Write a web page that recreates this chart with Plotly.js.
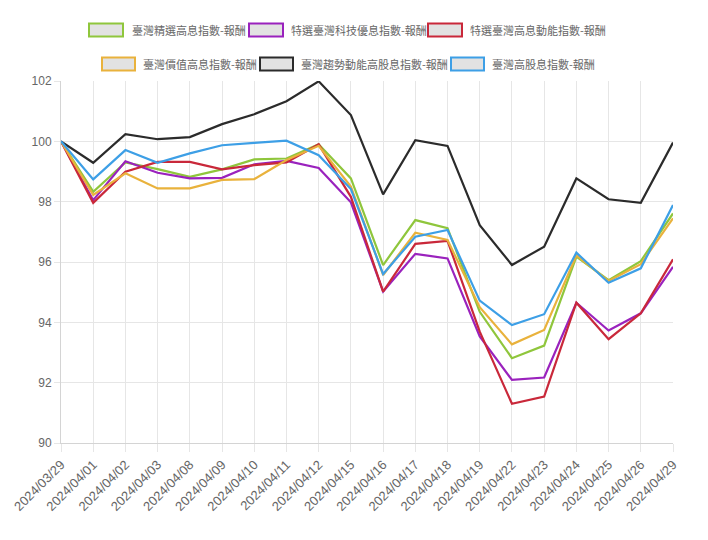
<!DOCTYPE html>
<html>
<head>
<meta charset="utf-8">
<script src="https://cdn.plot.ly/plotly-3.0.1.min.js"></script>
<style>
  html, body { margin: 0; padding: 0; background: #fff; }
  #chart { width: 708px; height: 540px; }
</style>
</head>
<body>
<div id="chart"></div>
<script>
// Trading days
const dates = ['2024/03/29','2024/04/01','2024/04/02','2024/04/03','2024/04/08','2024/04/09','2024/04/10',
  '2024/04/11','2024/04/12','2024/04/15','2024/04/16','2024/04/17','2024/04/18','2024/04/19','2024/04/22',
  '2024/04/23','2024/04/24','2024/04/25','2024/04/26','2024/04/29'];

// Series names (legend order)
const names = ['臺灣精選高息指數-報酬','特選臺灣科技優息指數-報酬','特選臺灣高息動能指數-報酬',
  '臺灣價值高息指數-報酬','臺灣趨勢動能高股息指數-報酬','臺灣高股息指數-報酬'];

// Index levels, base 100 on 2024/03/29
const selectHighDiv = [100, 98.33, 99.30, 99.08, 98.82, 99.07, 99.40, 99.43, 99.90, 98.77, 95.90, 97.39, 97.12, 94.35, 92.81, 93.23, 96.18, 95.40, 96.03, 97.61];
const techDiv       = [100, 98.05, 99.34, 98.96, 98.77, 98.79, 99.24, 99.35, 99.12, 97.98, 95.02, 96.27, 96.12, 93.53, 92.09, 92.17, 94.65, 93.73, 94.30, 95.84];
const momentumDiv   = [100, 97.96, 98.99, 99.32, 99.32, 99.07, 99.21, 99.30, 99.90, 98.16, 95.02, 96.60, 96.70, 93.69, 91.30, 91.54, 94.65, 93.44, 94.30, 96.09];
const valueDiv      = [100, 98.22, 98.94, 98.44, 98.44, 98.72, 98.75, 99.38, 99.85, 98.50, 95.57, 96.97, 96.73, 94.50, 93.27, 93.75, 96.22, 95.37, 95.93, 97.45];
const trendDiv      = [100, 99.29, 100.24, 100.07, 100.14, 100.57, 100.90, 101.33, 101.99, 100.87, 98.24, 100.04, 99.85, 97.22, 95.90, 96.51, 98.77, 98.08, 97.96, 99.96];
const highDiv       = [100, 98.74, 99.71, 99.29, 99.60, 99.87, 99.95, 100.02, 99.54, 98.42, 95.60, 96.84, 97.06, 94.72, 93.91, 94.27, 96.31, 95.31, 95.79, 97.89];

const seriesValues = [selectHighDiv, techDiv, momentumDiv, valueDiv, trendDiv, highDiv];
const colors = ['#8fc63c', '#9a22bd', '#c9283a', '#e9b23c', '#2b2b2b', '#3d9fe6'];

const traces = seriesValues.map((vals, i) => ({
  type: 'scatter',
  mode: 'lines',
  x: dates,
  y: vals,
  name: names[i],
  line: { color: colors[i], width: 2.2 },
  showlegend: false,
  hoverinfo: 'x+y+name'
}));

// Plot area in pixels
const W = 708, H = 540;
const L = 61, R = 673, T = 80.6, B = 443.3;
const px = x => (x - L) / (R - L);
const py = y => (B - y) / (B - T);

// Custom legend: boxed swatches with labels, two centred rows
const legendItems = [
  { box: [89, 123], y: 29.5, text: 130 },
  { box: [249, 283], y: 29.5, text: 289 },
  { box: [428, 462], y: 29.5, text: 468 },
  { box: [102, 135], y: 63.5, text: 141 },
  { box: [260, 293], y: 63.5, text: 299 },
  { box: [451, 484], y: 63.5, text: 490 }
];
const shapes = [];
const annotations = [];
legendItems.forEach((it, i) => {
  shapes.push({
    type: 'rect', xref: 'paper', yref: 'paper',
    x0: px(it.box[0]), x1: px(it.box[1]),
    y0: py(it.y - 6.5), y1: py(it.y + 6.5),
    fillcolor: '#e2e2e2', line: { color: colors[i], width: 2 }
  });
  annotations.push({
    xref: 'paper', yref: 'paper', x: px(it.text), y: py(it.y),
    xanchor: 'left', yanchor: 'middle', showarrow: false,
    text: names[i],
    font: { family: '"Noto Sans CJK TC", "Noto Sans", sans-serif', size: 11, color: '#666' }
  });
});

const layout = {
  width: W, height: H,
  margin: { l: L, r: W - R, t: T, b: H - B },
  paper_bgcolor: '#fff', plot_bgcolor: '#fff',
  showlegend: false,
  font: { family: '"Liberation Sans", Arial, sans-serif', color: '#666', size: 12 },
  xaxis: {
    type: 'category',
    range: [0, dates.length - 1],
    tickangle: -45,
    showgrid: true, gridcolor: '#e6e6e6', gridwidth: 1,
    ticks: 'outside', ticklen: 8, tickcolor: '#e6e6e6',
    showline: true, linecolor: '#d4d4d4', linewidth: 1,
    zeroline: false,
    tickfont: { size: 13, color: '#666' }
  },
  yaxis: {
    range: [90, 102],
    dtick: 2,
    showgrid: true, gridcolor: '#e6e6e6', gridwidth: 1,
    ticks: 'outside', ticklen: 6, tickcolor: '#e6e6e6',
    showline: true, linecolor: '#d4d4d4', linewidth: 1,
    zeroline: false,
    tickfont: { size: 12, color: '#666' }
  },
  shapes: shapes,
  annotations: annotations
};

Plotly.newPlot('chart', traces, layout, { displayModeBar: false, staticPlot: true });
</script>
</body>
</html>
